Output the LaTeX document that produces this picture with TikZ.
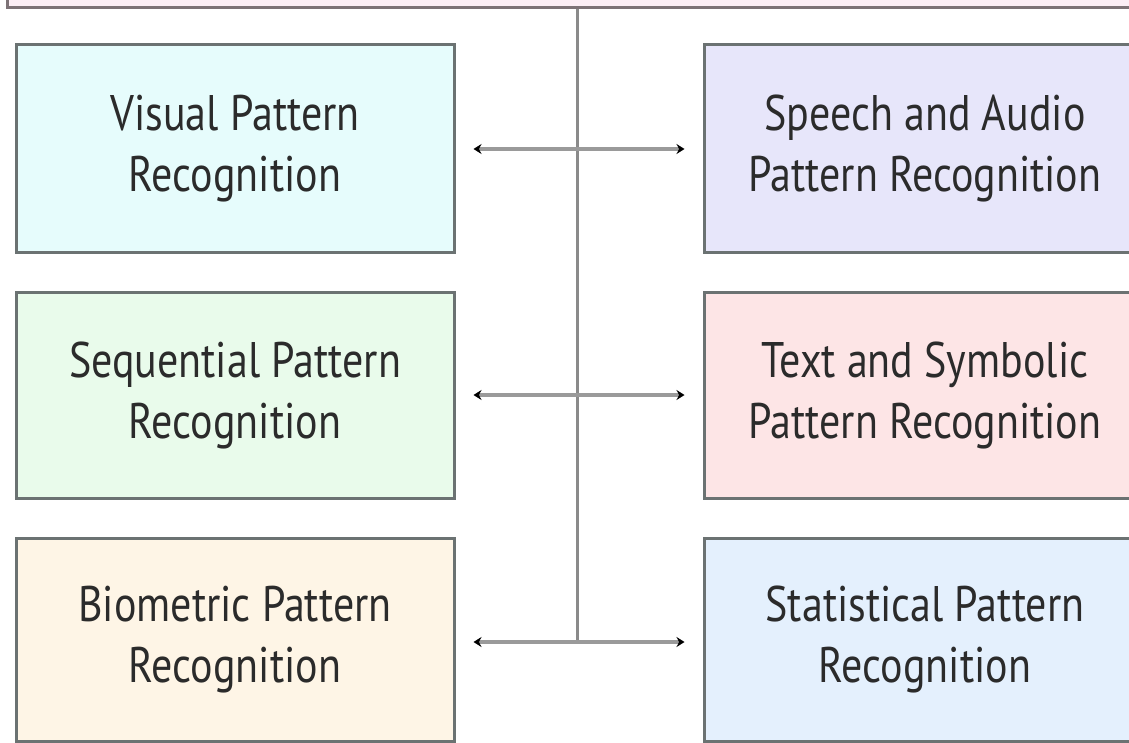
\documentclass[tikz,border=0pt]{standalone}
\usepackage{fontspec}
\setmainfont{PT Sans}[FakeStretch=0.84]
\usetikzlibrary{arrows.meta}
\definecolor{bordc}{HTML}{6B7272}
\definecolor{topfill}{HTML}{FCEEF5}
\definecolor{topbord}{HTML}{7D7276}
\definecolor{cvis}{HTML}{E6FCFC}
\definecolor{cspe}{HTML}{E7E6FA}
\definecolor{cseq}{HTML}{E9FBEB}
\definecolor{ctxt}{HTML}{FDE5E6}
\definecolor{cbio}{HTML}{FEF5E6}
\definecolor{csta}{HTML}{E4F0FD}
\definecolor{linec}{HTML}{8A8A8A}
\definecolor{linkc}{HTML}{9A9A9A}
\definecolor{txtc}{HTML}{2B2B2B}
\tikzset{
  catbox/.style={draw=bordc, line width=3pt, inner sep=0pt, align=center,
    font=\fontsize{50}{61}\selectfont, text=txtc},
  trunk/.style={draw=linec, line width=3pt},
  link/.style={draw=linkc, line width=4pt, {Stealth[length=8pt,width=10pt,black]}-{Stealth[length=8pt,width=10pt,black]},
    shorten <=18pt, shorten >=18pt}
}
\begin{document}
\begin{tikzpicture}[x=1pt,y=-1pt]
\useasboundingbox (0,0) rectangle (1129,743);
\clip (0,0) rectangle (1129,743);
\fill[white] (0,0) rectangle (1129,743);
\node[draw=topbord, fill=topfill, line width=3pt, minimum width=1136pt, minimum height=56pt, inner sep=0pt] (top) at (575,-20) {};
\node[catbox, fill=cvis, minimum width=438pt, minimum height=208pt] (vis) at (235,149) {Visual Pattern\\Recognition};
\node[catbox, fill=cseq, minimum width=438pt, minimum height=206pt] (seq) at (235,395) {Sequential Pattern\\Recognition};
\node[catbox, fill=cbio, minimum width=438pt, minimum height=203pt] (bio) at (235,639.5) {Biometric Pattern\\Recognition};
\node[catbox, fill=cspe, minimum width=442pt, minimum height=208pt] (spe) at (925,149) {Speech and Audio\\Pattern Recognition};
\node[catbox, fill=ctxt, minimum width=442pt, minimum height=206pt] (txt) at (925,395) {Text and Symbolic\\Pattern Recognition};
\node[catbox, fill=csta, minimum width=442pt, minimum height=203pt] (sta) at (925,639.5) {Statistical Pattern\\Recognition};
\coordinate (trunkend) at (577,642);
\draw[trunk] (top.south -| trunkend) -- (trunkend);
\draw[link] (vis.east) -- (spe.west);
\draw[link] (seq.east) -- (txt.west);
\draw[link] (bio.east |- trunkend) -- (sta.west |- trunkend);
\end{tikzpicture}
\end{document}
